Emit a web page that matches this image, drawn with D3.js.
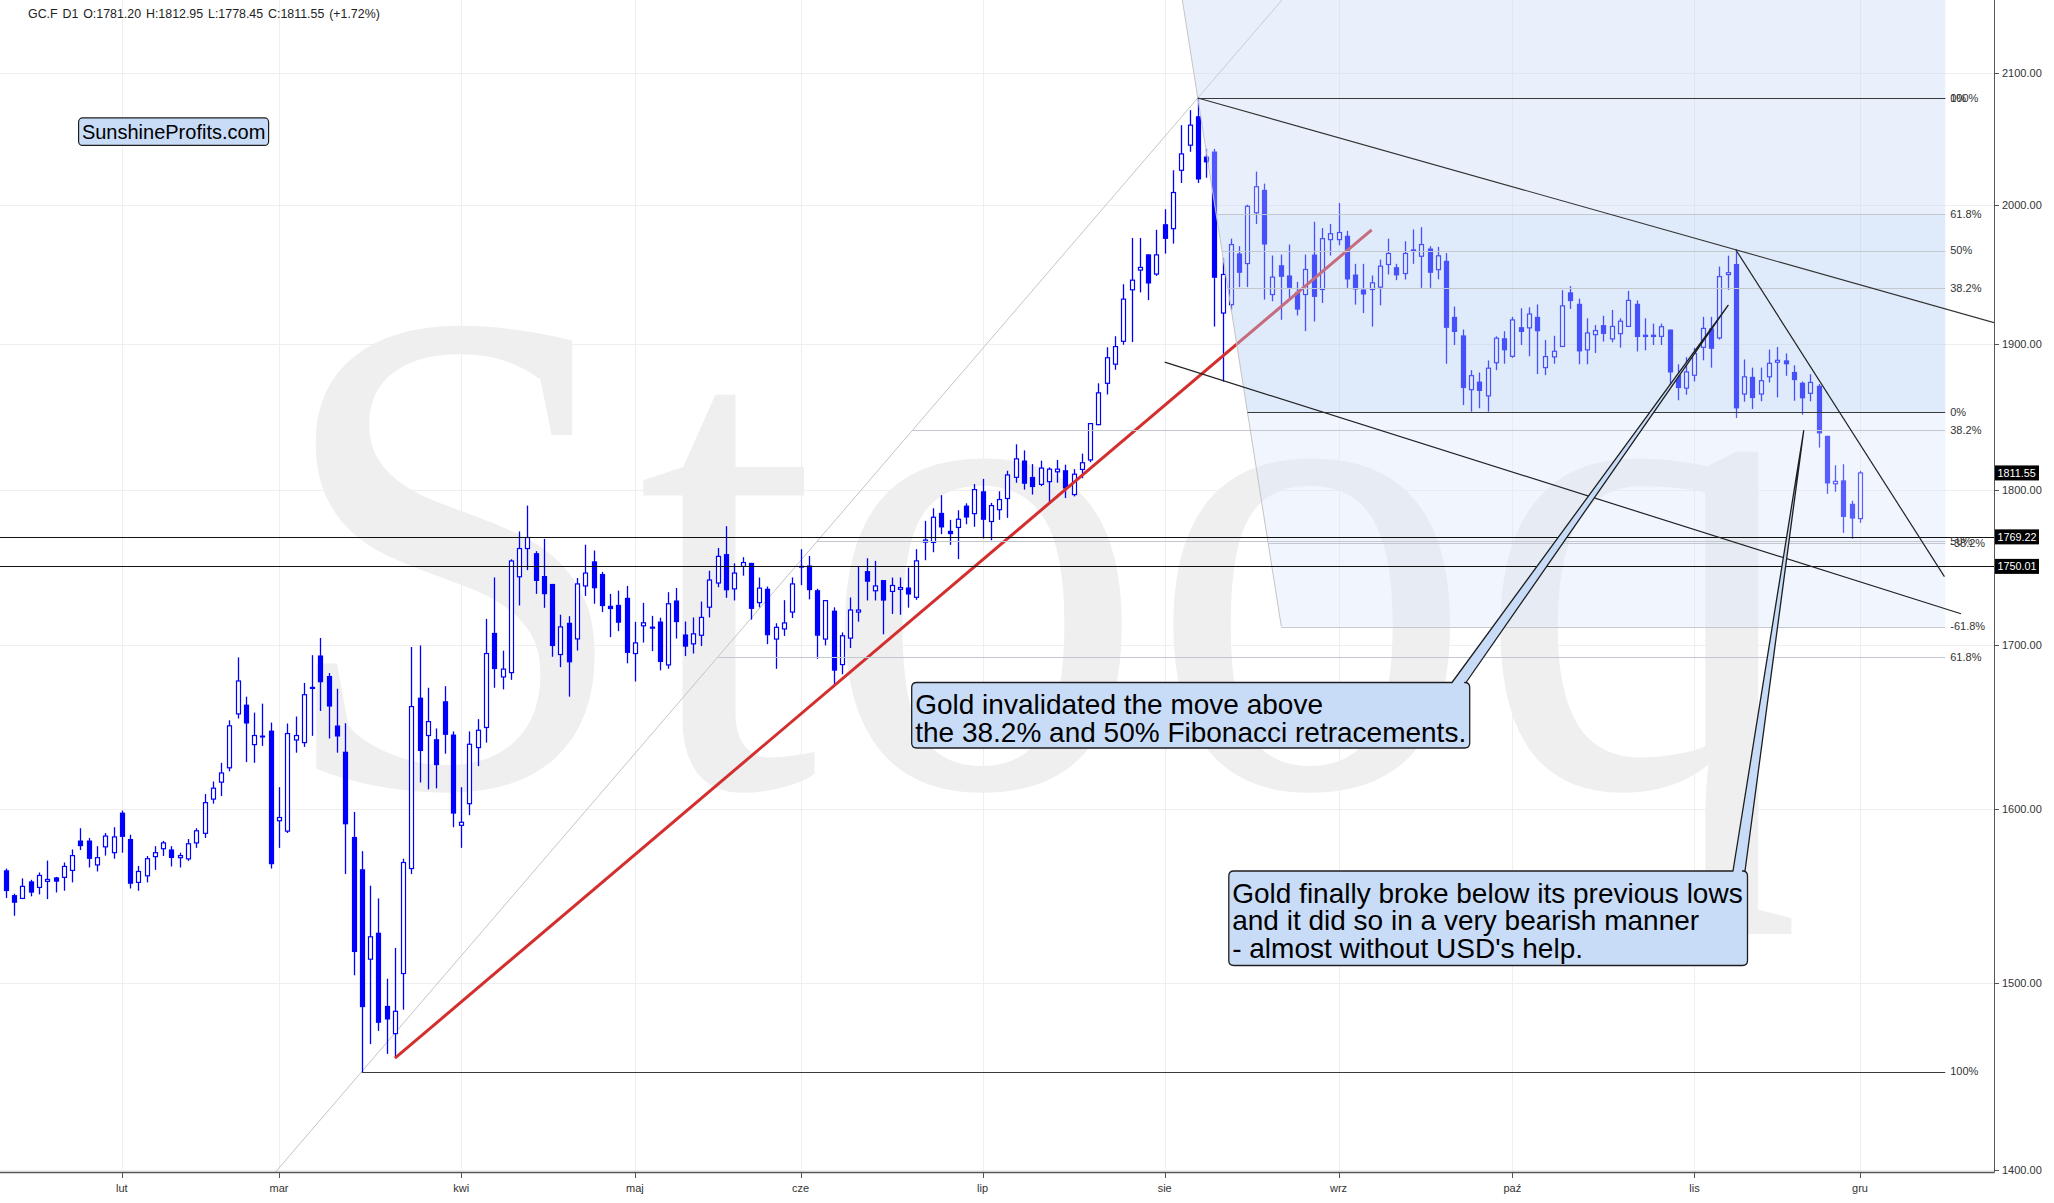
<!DOCTYPE html>
<html><head><meta charset="utf-8">
<script src="https://cdn.jsdelivr.net/npm/d3@7"></script>
<style>body{margin:0;background:#fff;}svg{display:block;}</style>
</head><body><svg id="chart" width="2054" height="1203"></svg>
<script>
// ---------------- DATA ----------------
const openP = [1564,1549.7,1547.8,1557.6,1554.1,1557.6,1559.9,1559.9,1563.9,1581.3,
1581.3,1567.1,1577.6,1574.2,1597.7,1582.2,1557,1560.8,1571.9,1576.5,
1576.1,1571.3,1570.6,1579.9,1585.5,1605.7,1615.8,1624.4,1657.1,1662.8,
1638.4,1643.9,1646.9,1592.9,1586.8,1641.2,1639.6,1673.8,1693.3,1680.5,
1650,1634.1,1583.4,1564.6,1513.4,1528.3,1487.5,1472.3,1505.4,1565,
1667.1,1643.9,1641.7,1664.9,1644.5,1590.2,1603,1636.6,1648.8,1707.5,
1679.9,1682.6,1743.3,1761.6,1758.6,1743.8,1738.7,1693.9,1713.9,1703.7,
1737.4,1753.3,1745.1,1724.7,1725.3,1729.8,1694.5,1712,1711.5,1714.7,
1687.4,1728.1,1706.5,1700.6,1706,1723.8,1739.3,1758,1735.5,1750,
1752.3,1726.7,1735.6,1703.6,1710,1720.7,1750.4,1750.6,1734.7,1703.6,
1721.6,1687.6,1704.2,1720.7,1747,1734.3,1741.2,1733.9,1735.2,1736.4,
1730.1,1765.8,1765.6,1785,1773.2,1775.4,1789.8,1784.5,1799.3,1779.3,
1787.1,1794.5,1808.6,1819.9,1808.9,1803.9,1805.7,1812.3,1813.4,1797.1,
1813.9,1820.3,1844.2,1872.6,1885.9,1901.9,1938.5,1952.7,1964.1,1949.8,
1986.1,1982.8,2026.1,2045,2067,2036.4,2040.2,1921.9,1927.9,1964.7,
1957.4,1994.5,2011.5,1935.1,1956.2,1948.8,1936.8,1935.1,1963.9,1938.7,
1974.8,1974.8,1977.6,1949.5,1938.7,1938.7,1940.4,1956.7,1954.8,1950.2,
1966.8,1962.7,1968.3,1953,1959.4,1919.2,1906.1,1868.2,1873.8,1863.9,
1886.9,1904.1,1891.4,1911.9,1911.4,1919.2,1883.5,1891,1898.3,1936.7,
1928.5,1895.9,1906.6,1913.4,1903.6,1907.3,1912.4,1928.5,1906.6,1906.6,
1905.4,1910.2,1878.6,1869.3,1878.2,1897.7,1911,1904.3,1949.4,1957.1,
1865.2,1877.1,1865.2,1877.1,1887.2,1888.6,1880.5,1873,1865.7,1870.9,
1836.6,1804.3,1806.6,1791,1781.2];
const highP = [1565,1550.5,1559.3,1558.5,1562.7,1569.6,1560.2,1568.5,1576.1,1588.5,
1582.8,1578,1585.7,1589.1,1598.9,1584.7,1566.5,1572.3,1578,1581.1,
1578,1574.2,1582.2,1588.5,1608.7,1616.2,1627.4,1653.2,1692.1,1667.7,
1657.9,1663.4,1651.8,1612.8,1651.2,1655.5,1676.2,1693.5,1704.3,1682.3,
1672.6,1651.4,1598.1,1575.1,1555.1,1547.8,1502.5,1519.7,1570.7,1698.6,
1699.6,1673.2,1648.2,1674.2,1646.4,1612.8,1646.4,1653.9,1716.4,1742.9,
1696.3,1754.6,1772.8,1789.8,1759.9,1767.9,1738.7,1719,1718.1,1742.5,
1764.1,1760.3,1746.5,1732.3,1734.4,1737.4,1714.5,1726.6,1718.3,1717.1,
1733.4,1736.1,1714.7,1717.3,1727.4,1747.2,1762,1776.2,1752,1756,
1752.3,1742.8,1737,1713.6,1728.3,1742.9,1761.2,1756.8,1735.6,1728,
1723.7,1707.8,1730,1749.8,1755.3,1753.6,1741.2,1742.8,1742.8,1749.2,
1761.2,1779.7,1788,1796.7,1780.4,1786.7,1791.3,1804.1,1807.6,1791.6,
1799.3,1813,1830.8,1826.7,1817.5,1819.8,1815.3,1820.3,1817.1,1814.1,
1824.5,1845.3,1872.6,1897.7,1905.5,1942.5,1976,1976,1964.1,1982,
1997.1,2026.1,2060.2,2071.7,2081,2042.2,2042.2,1961.5,1975.5,1970,
2000.5,2025.1,2016.1,1963.2,1963.9,1971.2,1944.2,1963.9,1987.9,1983.2,
1986.3,2001.8,1981.2,1957.2,1957.2,1948.8,1960.3,1975.5,1957.2,1973.6,
1982.2,1983.9,1970,1969.5,1965,1926.5,1910.2,1881.7,1880.1,1888.5,
1905.4,1909,1919.2,1925.3,1926,1928,1902.9,1905.8,1938.2,1941.1,
1932.1,1918.2,1913.4,1920,1924.1,1918.2,1937.7,1930.9,1918.2,1914.4,
1914.4,1910.2,1885.8,1890.8,1897.3,1919.2,1919.2,1955.2,1963.1,1967.4,
1889.2,1883.5,1883.5,1896.1,1897.9,1893.4,1885.1,1873.9,1878.9,1872.1,
1836.6,1816.7,1817.4,1793,1812.95];
const lowP = [1548,1537.9,1547.4,1549,1550.1,1547.4,1551.2,1552.2,1557,1575.7,
1565.6,1563.3,1572.5,1570.7,1574.2,1553.5,1552.2,1557,1564.2,1572.3,
1566.2,1565.6,1569.4,1577,1582.8,1603,1607.5,1622.3,1654.3,1627.8,
1627.4,1637.6,1565,1577,1585.7,1633.5,1637,1643.7,1658.9,1642.1,
1633.5,1561.8,1504.4,1451.4,1466.6,1473.8,1461.3,1459,1485.4,1561.8,
1615.6,1611.5,1612.1,1632.9,1589.1,1577,1596.2,1625.4,1639.6,1673.2,
1672.2,1678.1,1724.9,1747.6,1732.3,1723.4,1692.5,1686,1667.7,1696.4,
1731,1726,1720.7,1704.8,1708.6,1688.4,1677.1,1701.4,1696,1684,
1685,1703.9,1692.9,1694.5,1699.2,1717.3,1736.6,1729.8,1728.1,1744,
1715.9,1723.7,1700.4,1685,1705.6,1716.9,1737.9,1728.8,1691.2,1699.6,
1675,1681.6,1698,1714.6,1728.1,1728.1,1706.6,1719.5,1719,1723.5,
1728.5,1754,1759.2,1771,1764,1754.7,1777.5,1775.8,1768.2,1767,
1780.4,1781.7,1805,1800.4,1797.1,1802.7,1792,1805,1794.8,1795.9,
1808,1818.8,1843.8,1864.9,1882,1899.5,1901.4,1936.6,1931.1,1948.5,
1964.6,1971.9,2016.6,2040,2016.6,2020.5,1912.3,1873.8,1924.3,1940.4,
1940.4,1986.3,1931.5,1930.3,1917.1,1931.5,1920.2,1909.1,1915.9,1929.1,
1963.2,1970.7,1939.9,1927.9,1921.9,1912.3,1927.4,1949.5,1945.4,1945.9,
1957.2,1939.9,1939.9,1946,1886.2,1899.3,1857.6,1853.1,1855.4,1853.1,
1881.7,1886.2,1890.3,1899.3,1891.4,1879,1878.3,1886.2,1898.1,1924.8,
1885.8,1885.8,1893.7,1901.7,1901.2,1897.5,1912.2,1894.8,1895.6,1899.3,
1899.3,1870,1860.9,1864.7,1873.9,1888.6,1883.5,1903.1,1938.4,1848.7,
1859.9,1854.9,1860.2,1873.2,1862.9,1877.8,1860.6,1851,1860.2,1828.6,
1797.6,1799,1771.8,1768,1778.45];
const closeP = [1552,1545.3,1554.7,1551.1,1561,1558.7,1557.4,1566.2,1572.5,1578,
1570.6,1571.3,1583.9,1583.4,1583.4,1556.2,1563.3,1570.7,1574.2,1579.9,
1571.1,1572.5,1579.4,1587,1603.6,1612.2,1621.3,1649.8,1677.4,1651.2,
1643.9,1642.7,1567.5,1594.8,1645.1,1643.9,1668.9,1672.4,1676.6,1661.6,
1643.3,1590.8,1517.4,1486.8,1526,1478.2,1480,1484.5,1568.5,1661.6,
1634.5,1652.4,1626,1644.3,1597.1,1592,1638.6,1647.1,1694.5,1684.8,
1684.8,1753.5,1761.6,1768.8,1740.6,1732.1,1699.2,1711.3,1689,1738.7,
1745.7,1735.9,1724.5,1722.6,1713.9,1694.9,1701.2,1713.9,1710.1,1689.2,
1726,1714.3,1698.8,1706.9,1717.3,1741.2,1756.5,1734.6,1745.7,1752.5,
1722.7,1736,1706,1711,1713.8,1738.7,1749.2,1734.7,1705.7,1728,
1683.8,1705.7,1722,1722,1740.1,1737.4,1728,1737.7,1736.4,1731.9,
1753.6,1767.1,1782.1,1775.4,1771,1780.8,1781.9,1800.4,1780.4,1789.8,
1793.8,1810.2,1821,1804.3,1802.1,1814.8,1814.1,1814.1,1801.1,1810.7,
1818.4,1844.9,1866,1890.4,1898.2,1931.8,1945.4,1954.6,1943,1963.7,
1975.3,2009.5,2038.4,2060.2,2019.2,2032,1947.1,1949.5,1971.2,1950.7,
1999.3,2013.8,1971.2,1947.6,1947.8,1939.9,1924.3,1953.1,1933.4,1975.5,
1979.1,1980,1945.9,1938.7,1935.1,1943.5,1955.5,1964.7,1948.8,1964.7,
1967.3,1971.2,1950.7,1963,1911.4,1908.5,1869.3,1877.9,1867.3,1883.1,
1904.1,1895.6,1917,1908.5,1921.2,1909,1891.2,1894.9,1927,1930.4,
1894.8,1907.8,1909.5,1907.1,1912.4,1916.1,1930.9,1904.9,1904.9,1904.9,
1912.2,1880.1,1869.3,1880.5,1893.4,1911,1896.6,1948,1950.8,1855.3,
1877.1,1862.4,1874.4,1886.5,1888.6,1885.8,1874.8,1862.2,1873.2,1838.2,
1804.5,1805.9,1782.3,1781.2,1811.55];

const monthNames = ['sty','lut','mar','kwi','maj','cze','lip','sie','wrz','paź','lis','gru'];
const priceTicks = [1400,1500,1600,1700,1800,1900,2000,2100];
const holidays = ['2020-01-20','2020-02-17','2020-04-10','2020-05-25','2020-07-03','2020-09-07','2020-11-26'];
const firstDay = '2020-01-13';
const horizLevels = [1769.22, 1750.01];
const lastClose = 1811.55;
const headerText = 'GC.F  D1  O:1781.20  H:1812.95  L:1778.45  C:1811.55  (+1.72%)';

// Drawing-tool anchors in (bar index, price)
const fib1Pts = [[43,1451.8],[144,2081]];     // 100% -> 0%
const fib1Levels = [0,0.382,0.5,0.618,1];
const fib2Pts = [[144,2081],[150,1852.6]];    // 100% -> 0%
const fib2Levels = [1,0.618,0.5,0.382,0,-0.382,-0.618];
const fibEndIdx = 234.3;
const redLine = [[47,1459],[165,1982]];
const upperLine = [[144,2081],[209,1967.4]];
const lowerLine = [[140,1887.3],[236.2,1719.6]];
const steepLine = [[209,1967.4],[234.2,1743.4]];
const callouts = [
  {lines:['Gold invalidated the move above','the 38.2% and 50% Fibonacci retracements.'], tip:[208.06,1927.4]},
  {lines:["Gold finally broke below its previous lows","and it did so in a very bearish manner","- almost without USD's help."], tip:[217.2,1840.1]}
];
// ---------------- LAYOUT ----------------
const W=2054, H=1203, plotR=1994, plotB=1172;
const calloutBoxes = [
  {x:911.7,y:682.5,w:558,h:65.5,tx:915.2,base:[1452,1466],lh:27.5,first:31.5},
  {x:1228.8,y:871,w:518.7,h:94.5,tx:1232.2,base:[1733,1745],lh:27.5,first:31.6}
];

const svg = d3.select('#chart');
const x = d3.scaleLinear().domain([0,224]).range([5.9,1860]);
const y = d3.scaleLog().domain([1400,2100]).range([1169.8,73.4]);
const SANS = 'Liberation Sans, Arial, Helvetica, sans-serif';

// dates
const dates=[]; {let dt=new Date(firstDay+'T00:00:00Z');
 while(dates.length<closeP.length){const wd=dt.getUTCDay();const k=dt.toISOString().slice(0,10);
  if(wd!==0&&wd!==6&&!holidays.includes(k))dates.push(new Date(dt));dt.setUTCDate(dt.getUTCDate()+1);}}
const monthTicks = dates.map((d,i)=>({i,d})).filter(o=>o.i>0 && o.d.getUTCMonth()!==dates[o.i-1].getUTCMonth());

const data = closeP.map((c,i)=>({i,o:openP[i],h:highP[i],l:lowP[i],c}));

svg.append('rect').attr('width',W).attr('height',H).attr('fill','#fff');
svg.append('defs').append('clipPath').attr('id','clip').append('rect').attr('x',0).attr('y',0).attr('width',plotR).attr('height',plotB);
const plot = svg.append('g').attr('clip-path','url(#clip)');

// watermark
plot.append('text').attr('transform','translate(272,786) scale(0.93,0.99)')
  .attr('font-family','Liberation Serif, Times New Roman, serif').attr('font-size',702)
  .attr('letter-spacing',2).attr('fill','#efefef').text('Stooq');

// grid
plot.selectAll('line.hg').data(priceTicks).join('line').attr('x1',0).attr('x2',plotR)
  .attr('y1',d=>Math.round(y(d))+0.5).attr('y2',d=>Math.round(y(d))+0.5).attr('stroke','#efefef');
plot.selectAll('line.vg').data(monthTicks).join('line').attr('y1',0).attr('y2',plotB)
  .attr('x1',d=>Math.round(x(d.i))+0.5).attr('x2',d=>Math.round(x(d.i))+0.5).attr('stroke','#efefef');

const P = p=>[x(p[0]), y(p[1])];
function extendLine(a,b,xs,xe){const [x1,y1]=P(a),[x2,y2]=P(b);const s=(y2-y1)/(x2-x1);return [[xs,y1+(xs-x1)*s],[xe,y1+(xe-x1)*s]];}
function xAtY(a,b,yy){const [x1,y1]=P(a),[x2,y2]=P(b);return x1+(yy-y1)*(x2-x1)/(y2-y1);}

// fib1 diagonal (extended both ways)
plot.append('line').attr('x1',xAtY(fib1Pts[0],fib1Pts[1],plotB)).attr('y1',plotB)
  .attr('x2',xAtY(fib1Pts[0],fib1Pts[1],0)).attr('y2',0).attr('stroke','#c4c4c4').attr('stroke-width',1);

// candles
const cg = plot.append('g');
cg.selectAll('line.w').data(data).join('line')
  .attr('x1',d=>Math.round(x(d.i))+0.5).attr('x2',d=>Math.round(x(d.i))+0.5)
  .attr('y1',d=>y(d.h)).attr('y2',d=>y(d.l)).attr('stroke','#0000ff').attr('stroke-width',1.3);
cg.selectAll('rect.b').data(data).join('rect')
  .attr('x',d=>Math.round(x(d.i))+0.5-(d.c>=d.o?2:2.6))
  .attr('width',d=>d.c>=d.o?4:5.2)
  .attr('y',d=>y(Math.max(d.o,d.c)))
  .attr('height',d=>Math.max(1,Math.abs(y(d.o)-y(d.c))))
  .attr('fill',d=>d.c>=d.o?'#fff':'#0000ff')
  .attr('stroke',d=>d.c>=d.o?'#0000ff':'none').attr('stroke-width',1.2);

// red trend line
plot.append('line').attr('x1',P(redLine[0])[0]).attr('y1',P(redLine[0])[1])
  .attr('x2',P(redLine[1])[0]).attr('y2',P(redLine[1])[1]).attr('stroke','#d42f2f').attr('stroke-width',3);

// fib2 shading (overlay)
const f2price = r=>fib2Pts[1][1]+r*(fib2Pts[0][1]-fib2Pts[1][1]);
const xEnd = x(fibEndIdx);
const bands = [
  {top:null, bot:1, fill:'rgba(200,218,247,0.4)'},
  {top:1, bot:0.618, fill:'rgba(200,218,247,0.4)'},
  {top:0.618, bot:0, fill:'rgba(176,202,245,0.4)'},
  {top:0, bot:-0.618, fill:'rgba(220,232,252,0.4)'}
];
bands.forEach(b=>{
  const yt = b.top===null?0:y(f2price(b.top)), yb=y(f2price(b.bot));
  const pts=[[xAtY(fib2Pts[0],fib2Pts[1],yt),yt],[xEnd,yt],[xEnd,yb],[xAtY(fib2Pts[0],fib2Pts[1],yb),yb]];
  plot.append('polygon').attr('points',pts.map(p=>p.join(',')).join(' ')).attr('fill',b.fill);
});

// fib2 diagonal
{const yb=y(f2price(-0.618));
 plot.append('line').attr('x1',xAtY(fib2Pts[0],fib2Pts[1],0)).attr('y1',0)
  .attr('x2',xAtY(fib2Pts[0],fib2Pts[1],yb)).attr('y2',yb).attr('stroke','#c4c4c4');}

// fib level lines
const fibLab = r=>(Math.round(r*1000)/10)+'%';
const f1price = r=>fib1Pts[1][1]+r*(fib1Pts[0][1]-fib1Pts[1][1]);
const fibLines=[];
fib1Levels.forEach(r=>fibLines.push({p:f1price(r),r,xs:xAtY(fib1Pts[0],fib1Pts[1],y(f1price(r))),dark:r===1||r===0}));
fib2Levels.forEach(r=>fibLines.push({p:f2price(r),r,xs:xAtY(fib2Pts[0],fib2Pts[1],y(f2price(r))),dark:r===1||r===0}));
plot.selectAll('line.fl').data(fibLines).join('line')
  .attr('x1',d=>d.xs).attr('x2',xEnd).attr('y1',d=>Math.round(y(d.p))+0.5).attr('y2',d=>Math.round(y(d.p))+0.5)
  .attr('stroke',d=>d.dark?'#3a3a3a':'#c3c8d0').attr('stroke-width',1);
svg.selectAll('text.fl').data(fibLines).join('text')
  .attr('x',xEnd+5).attr('y',d=>y(d.p)).attr('dy','0.35em').attr('font-family',SANS).attr('font-size',11)
  .attr('fill','#333').text(d=>fibLab(d.r));

// horizontal price lines
plot.selectAll('line.hl').data(horizLevels).join('line').attr('x1',0).attr('x2',plotR)
  .attr('y1',d=>Math.round(y(d))+0.5).attr('y2',d=>Math.round(y(d))+0.5).attr('stroke','#111').attr('stroke-width',1.2);

// channel lines
{const e=extendLine(upperLine[0],upperLine[1],P(upperLine[0])[0],plotR);
 plot.append('line').attr('x1',e[0][0]).attr('y1',e[0][1]).attr('x2',e[1][0]).attr('y2',e[1][1]).attr('stroke','#333').attr('stroke-width',1.1);}
[lowerLine,steepLine].forEach(l=>plot.append('line').attr('x1',P(l[0])[0]).attr('y1',P(l[0])[1])
  .attr('x2',P(l[1])[0]).attr('y2',P(l[1])[1]).attr('stroke','#222').attr('stroke-width',1.2));

// callouts
callouts.forEach((c,k)=>{
  const b=calloutBoxes[k], r=5; const [tx,ty]=P(c.tip);
  const X=b.x,Y=b.y,Wd=b.w,Hh=b.h;
  const path=`M${X+r},${Y} L${b.base[0]},${Y} L${tx},${ty} L${b.base[1]},${Y} L${X+Wd-r},${Y} Q${X+Wd},${Y} ${X+Wd},${Y+r} L${X+Wd},${Y+Hh-r} Q${X+Wd},${Y+Hh} ${X+Wd-r},${Y+Hh} L${X+r},${Y+Hh} Q${X},${Y+Hh} ${X},${Y+Hh-r} L${X},${Y+r} Q${X},${Y} ${X+r},${Y} Z`;
  svg.append('path').attr('d',path).attr('fill','#c8dcf8').attr('stroke','#1e1e1e').attr('stroke-width',1.3).attr('stroke-linejoin','round');
  const t=svg.append('text').attr('font-family',SANS).attr('font-size',28).attr('fill','#000');
  c.lines.forEach((s,j)=>t.append('tspan').attr('x',b.tx).attr('y',Y+b.first+j*b.lh).text(s));
});

// SunshineProfits label
svg.append('rect').attr('x',78.6).attr('y',117.9).attr('width',190).attr('height',27.5).attr('rx',4)
  .attr('fill','#c8dcf8').attr('stroke','#1e1e1e').attr('stroke-width',1.2);
svg.append('text').attr('x',173.6).attr('y',138.5).attr('text-anchor','middle').attr('font-family',SANS)
  .attr('font-size',20).attr('fill','#000').text('SunshineProfits.com');

// header
svg.append('text').attr('x',28).attr('y',18).attr('font-family',SANS).attr('font-size',12.4)
  .attr('word-spacing',-1).attr('fill','#222').style('white-space','pre').text(headerText);

// axes
svg.append('line').attr('x1',plotR+0.5).attr('x2',plotR+0.5).attr('y1',0).attr('y2',plotB+0.5).attr('stroke','#555');
svg.append('line').attr('x1',0).attr('x2',plotR+0.5).attr('y1',plotB+0.5).attr('y2',plotB+0.5).attr('stroke','#555').attr('stroke-width',1.5);
svg.selectAll('line.yt').data(priceTicks).join('line').attr('x1',plotR).attr('x2',plotR+5)
  .attr('y1',d=>Math.round(y(d))+0.5).attr('y2',d=>Math.round(y(d))+0.5).attr('stroke','#555');
svg.selectAll('text.yt').data(priceTicks).join('text').attr('x',plotR+8).attr('y',d=>y(d)).attr('dy','0.35em')
  .attr('font-family',SANS).attr('font-size',11).attr('fill','#333').text(d=>d3.format('.2f')(d));
svg.selectAll('line.xt').data(monthTicks).join('line').attr('y1',plotB).attr('y2',plotB+6)
  .attr('x1',d=>Math.round(x(d.i))+0.5).attr('x2',d=>Math.round(x(d.i))+0.5).attr('stroke','#555');
svg.selectAll('text.xt').data(monthTicks).join('text').attr('x',d=>x(d.i)).attr('y',plotB+20).attr('text-anchor','middle')
  .attr('font-family',SANS).attr('font-size',11).attr('fill','#333').text(d=>monthNames[d.d.getUTCMonth()]);

// price tags
const tags=[lastClose].concat(horizLevels);
tags.forEach(v=>{const yy=y(v);
  svg.append('rect').attr('x',plotR+1).attr('y',yy-7.5).attr('width',44).attr('height',15).attr('fill','#000');
  svg.append('text').attr('x',plotR+3.5).attr('y',yy).attr('dy','0.36em').attr('font-family',SANS).attr('font-size',10.8)
   .attr('fill','#fff').text(d3.format('.2f')(v));});
</script></body></html>
